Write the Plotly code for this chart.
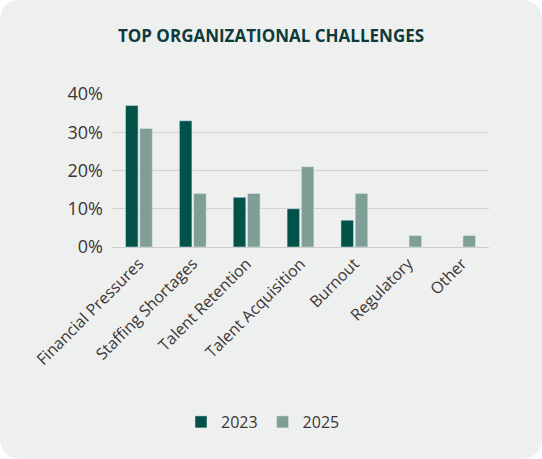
import plotly.graph_objects as go

categories = ["Financial Pressures", "Staffing Shortages", "Talent Retention",
              "Talent Acquisition", "Burnout", "Regulatory", "Other"]
vals_2023 = [37, 33, 13, 10, 7, None, None]
vals_2025 = [31, 14, 14, 21, 14, 3, 3]
y_ticks = [0, 10, 20, 30, 40]
y_labels = ["0%", "10%", "20%", "30%", "40%"]

W, H = 542, 459
L, R, T, B = 112, 53, 94, 212
PW, PH = W - L - R, H - T - B

TEXT = "#3d3535"
FONT = "Open Sans"


def px(x, y):
    # figure pixels -> paper coords
    return (x - L) / PW, (H - B - y) / PH


def card_path(x0, y0, x1, y1, r):
    def p(x, y):
        a, b = px(x, y)
        return f"{a:.5f},{b:.5f}"
    pts = ["M " + p(x0 + r, y0),
           "L " + p(x1 - r, y0),
           "Q " + p(x1, y0) + " " + p(x1, y0 + r),
           "L " + p(x1, y1 - r),
           "Q " + p(x1, y1) + " " + p(x1 - r, y1),
           "L " + p(x0 + r, y1),
           "Q " + p(x0, y1) + " " + p(x0, y1 - r),
           "L " + p(x0, y0 + r),
           "Q " + p(x0, y0) + " " + p(x0 + r, y0)]
    return " ".join(pts) + " Z"


fig = go.Figure()
fig.add_trace(go.Bar(x=categories, y=vals_2023, name="2023", marker_color="#03524a"))
fig.add_trace(go.Bar(x=categories, y=vals_2025, name="2025", marker_color="#7f9e96"))

# rounded card behind everything
fig.add_shape(type="path", xref="paper", yref="paper", layer="below",
              path=card_path(0, 0, W, H, 22),
              fillcolor="#eef0ef", line_width=0)

fig.update_layout(
    width=W, height=H,
    margin=dict(l=L, r=R, t=T, b=B, autoexpand=False),
    paper_bgcolor="white", plot_bgcolor="rgba(0,0,0,0)",
    barmode="group", bargap=0.47, bargroupgap=0.12,
    font=dict(family=FONT, color=TEXT, size=16),
    title=dict(text="<b>TOP ORGANIZATIONAL CHALLENGES</b>",
               font=dict(family=FONT, size=17, color="#0e3b3a"),
               x=0.5, xanchor="center", xref="container",
               y=1 - 36 / H, yanchor="middle", yref="container"),
    xaxis=dict(tickangle=-45, tickfont=dict(size=16, color=TEXT),
               showgrid=False, showline=True, linecolor="#cccccc", linewidth=1.2,
               ticks=""),
    yaxis=dict(range=[0, 40], tickvals=y_ticks, ticktext=y_labels,
               tickfont=dict(size=18, color=TEXT), showgrid=True,
               gridcolor="#d2d2d2", gridwidth=1, zeroline=False, ticks="",
               ticklabelstandoff=8),
    legend=dict(orientation="h", xref="container", yref="container",
                x=263 / W, xanchor="center", y=1 - 422 / H, yanchor="middle",
                font=dict(size=16, color=TEXT), bgcolor="rgba(0,0,0,0)",
                itemwidth=30),
    showlegend=True,
)

fig.write_html("out.html", config={"displayModeBar": False},
               post_script="document.body.style.margin='0';")
